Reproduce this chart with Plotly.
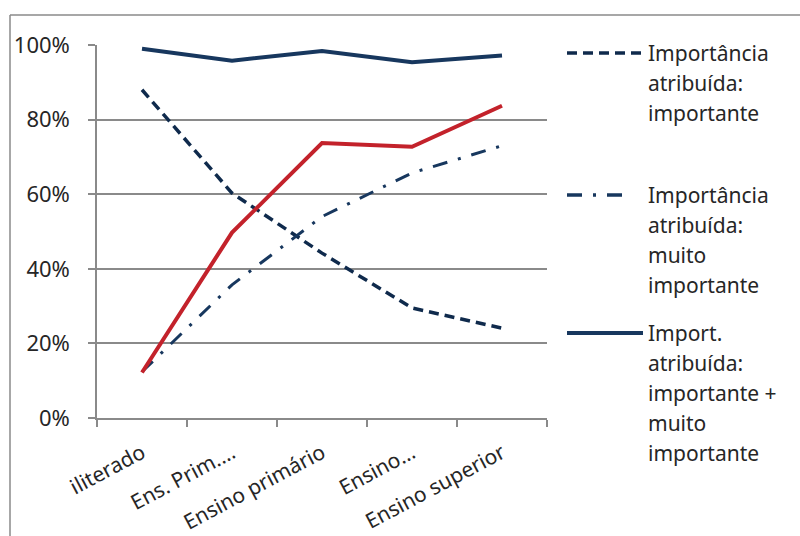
import plotly.graph_objects as go

# Education levels and the share of respondents for each importance rating
categories = ["iliterado", "Ens. Prim.…", "Ensino primário", "Ensino…", "Ensino superior"]
importante = [0.88, 0.603, 0.442, 0.295, 0.241]
muito_importante = [0.124, 0.357, 0.54, 0.657, 0.73]
soma = [0.99, 0.958, 0.984, 0.954, 0.972]
outra_serie = [0.122, 0.497, 0.737, 0.727, 0.837]

legend_entries = [
    ("Importância<br>atribuída:<br>importante", "dash"),
    ("Importância<br>atribuída:<br>muito<br>importante", "dashdot"),
    ("Import.<br>atribuída:<br>importante +<br>muito<br>importante", "solid"),
]

NAVY = "#0f2a4c"
BLUE = "#17375e"
RED = "#c3222b"
GRID = "#8a8a8a"
TXT = "#262626"
FONT = "Noto Sans"

W, H = 800, 536
L, R, T, B = 97, 547, 45, 418  # plot area in pixels


def px(x):
    return (x - L) / (R - L)


def py(y):
    return (B - y) / (B - T)


DASH = "10px,6px"
DASHDOT = "15px,11px,3px,11px"

fig = go.Figure()
fig.add_trace(go.Scatter(x=categories, y=importante, mode="lines",
                         line=dict(color=NAVY, width=3.5, dash=DASH)))
fig.add_trace(go.Scatter(x=categories, y=muito_importante, mode="lines",
                         line=dict(color=BLUE, width=3, dash=DASHDOT)))
fig.add_trace(go.Scatter(x=categories, y=soma, mode="lines",
                         line=dict(color=BLUE, width=4)))
fig.add_trace(go.Scatter(x=categories, y=outra_serie, mode="lines",
                         line=dict(color=RED, width=4)))

shapes = []
annotations = []

# outer frame (top and left edges)
shapes.append(dict(type="line", xref="paper", yref="paper",
                   x0=px(10), y0=py(H + 5), x1=px(10), y1=py(15),
                   line=dict(color=GRID, width=1.5)))
shapes.append(dict(type="line", xref="paper", yref="paper",
                   x0=px(10), y0=py(15), x1=px(W + 5), y1=py(15),
                   line=dict(color=GRID, width=1.5)))

# legend drawn beside the plot
legend_rows = [53, 195, 333]
samples = [
    dict(color=NAVY, width=3.5, dash=DASH),
    dict(color=BLUE, width=3.5, dash=DASHDOT),
    dict(color=BLUE, width=4),
]
for (label, _), ytop, ln in zip(legend_entries, legend_rows, samples):
    x1 = 643 if ln.get("dash") != DASHDOT else 630
    shapes.append(dict(type="line", xref="paper", yref="paper",
                       x0=px(567), y0=py(ytop), x1=px(x1), y1=py(ytop),
                       line=ln))
    for i, part in enumerate(label.split("<br>")):
        annotations.append(dict(xref="paper", yref="paper",
                                x=px(646), y=py(ytop + 30 * i),
                                xanchor="left", yanchor="middle",
                                text=part, showarrow=False,
                                font=dict(family=FONT, size=21, color=TXT)))

fig.update_layout(
    width=W, height=H,
    margin=dict(l=L, r=W - R, t=T, b=H - B),
    paper_bgcolor="white", plot_bgcolor="white",
    showlegend=False,
    shapes=shapes, annotations=annotations,
    font=dict(family=FONT, size=21, color=TXT),
)
fig.update_xaxes(
    type="category", range=[-0.5, 4.5], tickson="boundaries",
    automargin=False,
    showgrid=False, showline=True, linecolor=GRID, linewidth=1.5,
    ticks="outside", ticklen=7, tickcolor=GRID, tickwidth=1.5,
    tickangle=-28, ticklabelstandoff=13,
    tickfont=dict(family=FONT, size=21, color=TXT),
)
fig.update_yaxes(
    range=[0, 1], tickvals=[0, 0.2, 0.4, 0.6, 0.8, 1.0], tickformat=".0%",
    automargin=False,
    showgrid=True, gridcolor=GRID, gridwidth=1.5,
    showline=True, linecolor=GRID, linewidth=1.5,
    ticks="outside", ticklen=7, tickcolor=GRID, tickwidth=1.5,
    ticklabelstandoff=14,
    zeroline=False, tickfont=dict(family=FONT, size=22, color=TXT),
)

fig.write_html("out.html")
